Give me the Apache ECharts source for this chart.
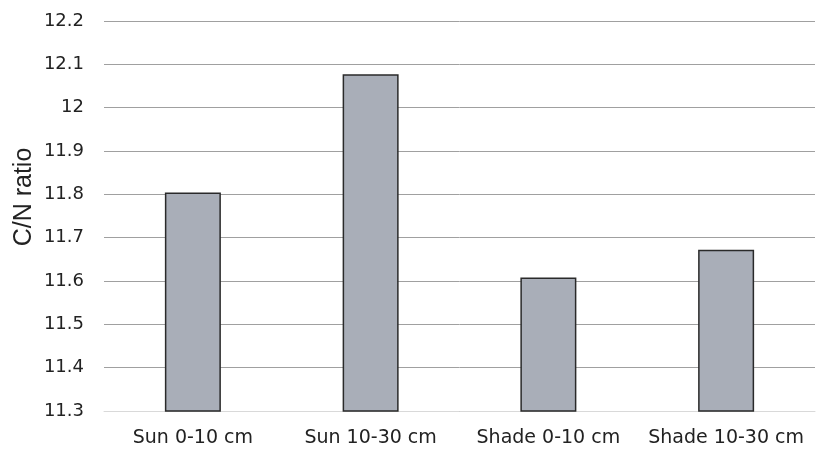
<!DOCTYPE html>
<html>
<head>
<meta charset="utf-8">
<script src="https://cdn.jsdelivr.net/npm/echarts@6/dist/echarts.min.js"></script>
<style>
html,body{margin:0;padding:0;background:#fff;}
#chart{width:817px;height:451px;}
</style>
</head>
<body>
<div id="chart"></div>
<script>
const categories = ["Sun 0-10 cm", "Sun 10-30 cm", "Shade 0-10 cm", "Shade 10-30 cm"];
const cnRatio = [11.804, 12.077, 11.608, 11.672];
const yTitle = "C/N ratio";

const chart = echarts.init(document.getElementById('chart'), null, {renderer: 'canvas'});
chart.setOption({
  animation: false,
  backgroundColor: '#ffffff',
  grid: {left: 104, right: 2, top: 21, bottom: 40, containLabel: false},
  xAxis: {
    type: 'category',
    data: categories,
    axisLine: {show: true, lineStyle: {color: '#d9d9d9', width: 1}},
    axisTick: {show: false},
    axisLabel: {fontFamily: 'DejaVu Sans', fontSize: 19, color: '#222', margin: 18, interval: 0}
  },
  yAxis: {
    type: 'value',
    min: 11.3, max: 12.2, interval: 0.1,
    axisLine: {show: false},
    axisTick: {show: false},
    splitLine: {show: true, lineStyle: {color: '#a0a0a0', width: 1}},
    axisLabel: {
      fontFamily: 'DejaVu Sans', fontSize: 18, color: '#222', margin: 20,
      formatter: v => String(+v.toFixed(1))
    }
  },
  graphic: [{
    type: 'text',
    x: 24, y: 197,
    rotation: Math.PI / 2,
    style: {
      text: yTitle,
      fontFamily: 'Liberation Sans', fontSize: 25, fill: '#222',
      align: 'center', verticalAlign: 'middle'
    }
  }],
  series: [{
    type: 'bar',
    data: cnRatio,
    barWidth: 56,
    itemStyle: {color: '#a9aeb8', borderColor: '#2a2a2a', borderWidth: 1.5},
    z: 3
  }]
});
</script>
</body>
</html>
